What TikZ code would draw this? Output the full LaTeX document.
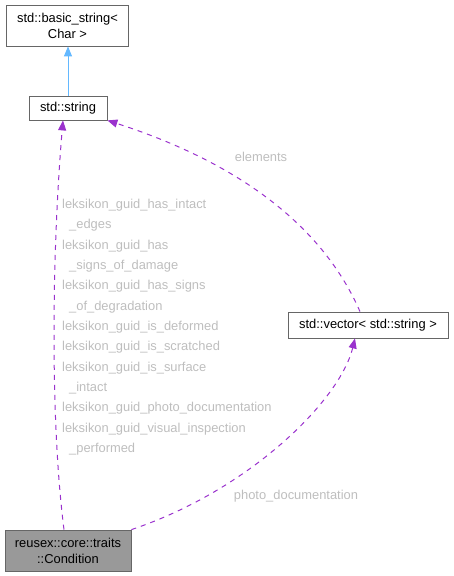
\documentclass[tikz,border=0pt]{standalone}
\usepackage{fontspec}
\setmainfont{Liberation Sans}
\usetikzlibrary{arrows.meta,calc}
\definecolor{edgepurple}{HTML}{9A32CD}
\definecolor{edgeblue}{HTML}{63B8FF}
\definecolor{lblgray}{HTML}{BEBEBE}
\definecolor{boxborder}{HTML}{666666}
\definecolor{condfill}{HTML}{999999}
\begin{document}
\begin{tikzpicture}[x=1pt,y=-1pt,
  font=\fontsize{12.9}{16}\selectfont,
  cls/.style={draw=boxborder, line width=0.8pt, fill=white, inner sep=0pt, align=center},
  dep/.style={draw=edgepurple, line width=1pt, dash pattern=on 5pt off 5pt,
    -{Triangle[length=10pt,width=8pt]}},
  inh/.style={draw=edgeblue, line width=1pt, -{Triangle[length=10pt,width=8pt]}},
  lbl/.style={text=lblgray, inner sep=0pt}]
\useasboundingbox (0,0) rectangle (453,576);

\node[cls, minimum width=122pt, minimum height=41pt] (base) at (67.5,25.5) {std::basic\_string<\\Char >};
\node[cls, minimum width=78pt, minimum height=24pt] (str) at (68,108) {std::string};
\node[cls, minimum width=160pt, minimum height=26pt] (vec) at (368,325) {std::vector< std::string >};
\node[cls, fill=condfill, minimum width=126pt, minimum height=41pt] (cond) at (68,550.5) {reusex::core::traits\\::Condition};

\draw[inh] (str.north) -- (str.north |- base.south);

\draw[dep] ($(cond.north)+(-4,0)$) .. controls (50,420) and (52,250) .. ($(str.south)+(-5,0)$);
\draw[dep] (cond.north east) .. controls (250,490) and (340,400) .. ($(vec.south)+(-13,0)$);
\draw[dep] ($(vec.north)+(-8,0)$) .. controls (320,220) and (230,160) .. (str.south east);

\node[lbl] (el) at (261,157) {elements};
\node[lbl] (pd) at (296,496) {photo\_documentation};
\node[lbl, anchor=north west, align=left, font=\fontsize{12.9}{20.33}\selectfont] (list) at (62,199) {%
leksikon\_guid\_has\_intact\\
\hspace*{7pt}\_edges\\
leksikon\_guid\_has\\
\hspace*{7pt}\_signs\_of\_damage\\
leksikon\_guid\_has\_signs\\
\hspace*{7pt}\_of\_degradation\\
leksikon\_guid\_is\_deformed\\
leksikon\_guid\_is\_scratched\\
leksikon\_guid\_is\_surface\\
\hspace*{7pt}\_intact\\
leksikon\_guid\_photo\_documentation\\
leksikon\_guid\_visual\_inspection\\
\hspace*{7pt}\_performed};
\end{tikzpicture}
\end{document}
